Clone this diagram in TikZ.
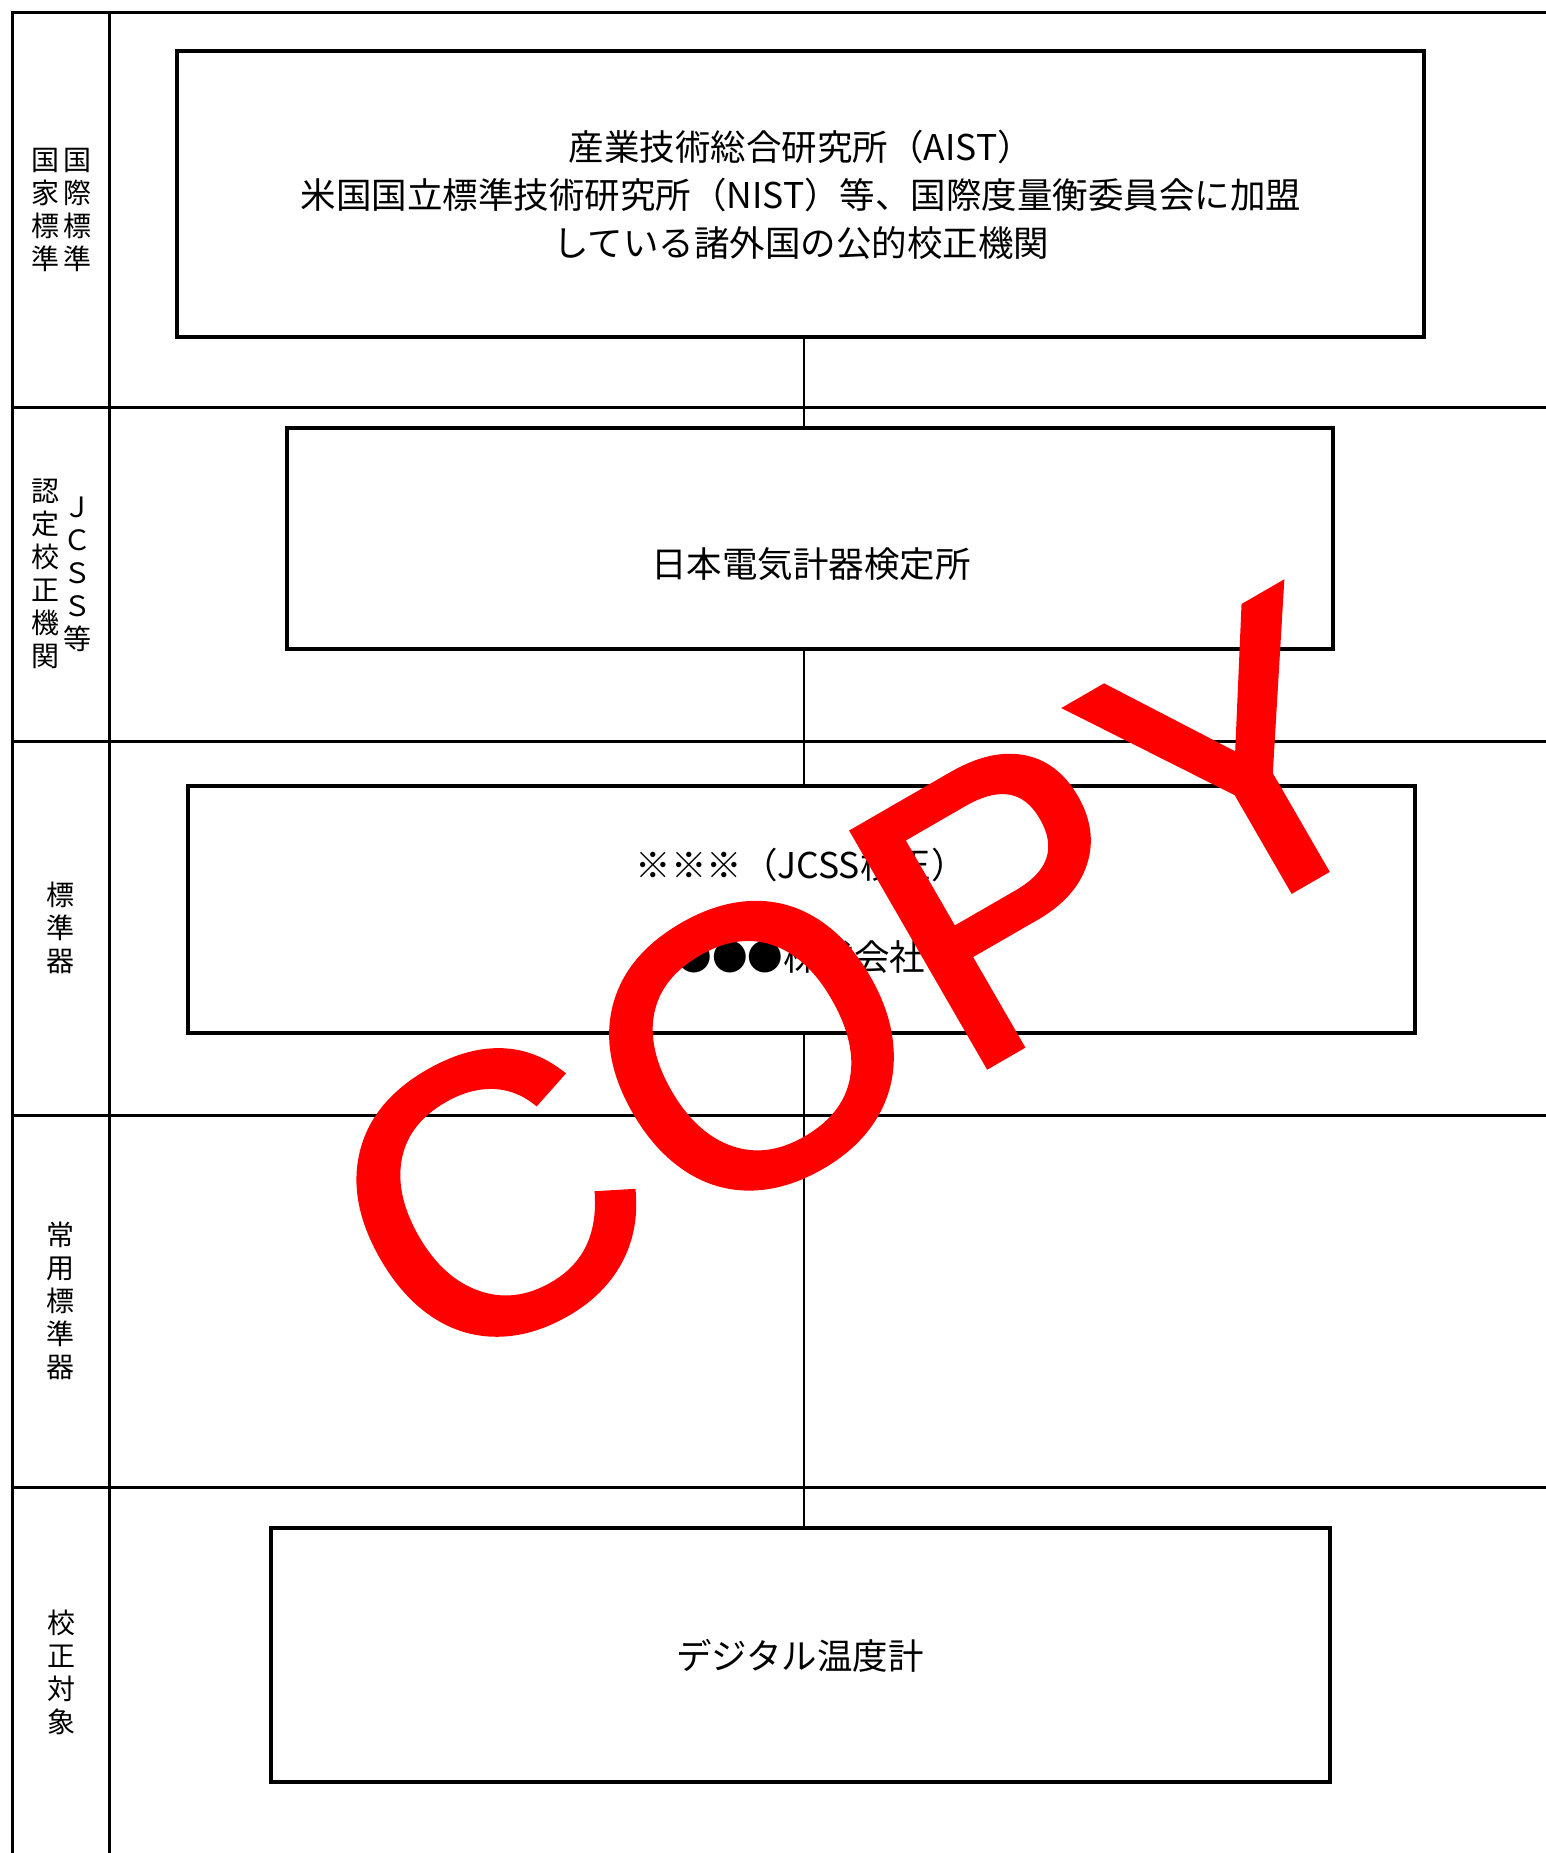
\documentclass[tikz,border=0pt]{standalone}
\usepackage{fontspec}
\newfontfamily\jp{Noto Sans CJK JP}
\newfontfamily\wm[FakeBold=2,LetterSpace=3]{Liberation Sans}
\begin{document}
\begin{tikzpicture}[x=1pt,y=-1pt,
  grid/.style={line width=3pt},
  box/.style={draw,line width=4.5pt,rectangle,inner sep=0pt},
  conn/.style={line width=2.5pt},
  main/.style={font=\jp\fontsize{35.5}{48}\selectfont,align=center,inner sep=0pt},
  side/.style={font=\jp\fontsize{28}{33}\selectfont,align=center,inner sep=0pt},
  stamp/.style={font=\wm\fontsize{390}{390}\selectfont,text={rgb,255:red,255;green,0;blue,0},rotate=30,inner sep=0pt}]
\useasboundingbox (0,0) rectangle (1546,1853);
% grid
\draw[grid] (10.5,12) -- (1546,12);
\foreach \yy in {407,741,1115,1487} {\draw[grid] (10.5,\yy) -- (1546,\yy);}
\draw[grid] (12,10.5) -- (12,1853);
\draw[grid] (109,10.5) -- (109,1853);
% side labels
\node[side] (l1a) at (77,210) {国\\際\\標\\準};
\node[side] (l1b) at (45,210) {国\\家\\標\\準};
\node[side] (l2a) at (77,574) {Ｊ\\Ｃ\\Ｓ\\Ｓ\\等};
\node[side] (l2b) at (45,574) {認\\定\\校\\正\\機\\関};
\node[side] (l3) at (60,928) {標\\準\\器};
\node[side] (l4) at (60,1301) {常\\用\\標\\準\\器};
\node[side] (l5) at (61,1672) {校\\正\\対\\象};
% boxes
\node[box,minimum width=1247,minimum height=286] (b1) at (800.5,194) {};
\node[box,minimum width=1046,minimum height=221] (b2) at (810,538.5) {};
\node[box,minimum width=1227,minimum height=247] (b3) at (801.5,909.5) {};
\node[box,minimum width=1059,minimum height=254] (b4) at (800.5,1655) {};
% texts
\node[main] (t1) at (801,195) {産業技術総合研究所（AIST）\\米国国立標準技術研究所（NIST）等、国際度量衡委員会に加盟\\している諸外国の公的校正機関};
\node[main] (t2) at (811,564) {日本電気計器検定所};
\node[main] (t3a) at (801,865) {※※※（JCSS校正）};
\node[main] (t3b) at (801,957) {●●●株式会社};
\node[main] (t4) at (800,1656) {デジタル温度計};
% connectors
\coordinate (cx) at (804,0);
\draw[conn] (b1.south -| cx) -- (b2.north -| cx);
\draw[conn] (b2.south -| cx) -- (b3.north -| cx);
\draw[conn] (b3.south -| cx) -- (b4.north -| cx);
% watermark
\node[stamp] (wm) at (861,983) {COPY};
\end{tikzpicture}
\end{document}
